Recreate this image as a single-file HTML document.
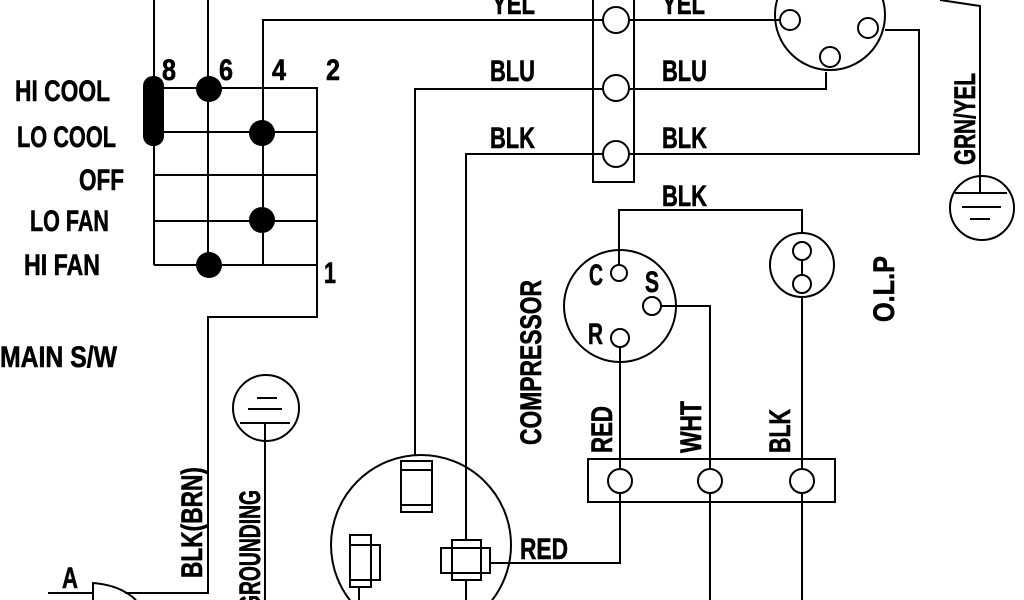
<!DOCTYPE html>
<html><head><meta charset="utf-8"><style>
html,body{margin:0;padding:0;background:#fff;width:1024px;height:600px;overflow:hidden;}
svg{display:block;overflow:hidden;}
text{font-family:"Liberation Sans",sans-serif;font-weight:bold;fill:#000;stroke:#000;stroke-width:0.6;}
</style></head><body>
<svg width="1024" height="600" viewBox="0 0 1024 600" xmlns="http://www.w3.org/2000/svg">
<g fill="none" stroke="#000" stroke-width="2">
<line x1="154" y1="0" x2="154" y2="265"/>
<line x1="208" y1="0" x2="208" y2="265"/>
<polyline points="263,265 263,20 603,20"/>
<polyline points="154,88 317,88 317,317 208,317 208,593 125,593"/>
<line x1="154" y1="132" x2="317" y2="132"/>
<line x1="154" y1="175" x2="317" y2="175"/>
<line x1="154" y1="221" x2="317" y2="221"/>
<line x1="154" y1="265" x2="317" y2="265"/>
<line x1="48" y1="593" x2="93" y2="593"/>
<path d="M93,600 L93,583 Q120,585 136,600"/>
<rect x="593" y="-2" width="41" height="184"/>
<circle cx="616" cy="20" r="13"/>
<circle cx="616" cy="88" r="13"/>
<circle cx="616" cy="154" r="13"/>
<polyline points="415,455 415,89 603,89"/>
<polyline points="466,540 466,154 603,154"/>
<line x1="629" y1="20" x2="779" y2="20"/>
<polyline points="629,89 826,89 826,72"/>
<polyline points="629,154 919,154 919,30 885,30"/>
<circle cx="830" cy="15" r="55"/>
<circle cx="790" cy="20" r="10"/>
<circle cx="868" cy="28" r="10"/>
<circle cx="830" cy="57" r="10"/>
<polyline points="940,0 980,6 980,193"/>
<circle cx="982" cy="208" r="32"/>
<line x1="955" y1="193" x2="1007" y2="193"/>
<line x1="962" y1="207" x2="1001" y2="207"/>
<line x1="970" y1="219" x2="990" y2="219"/>
<polyline points="619,265 619,210 802,210 802,234"/>
<circle cx="620" cy="306" r="56"/>
<circle cx="619" cy="273" r="8"/>
<circle cx="652" cy="306" r="9"/>
<circle cx="620" cy="338" r="9"/>
<polyline points="661,306 710,306 710,600"/>
<polyline points="620,347 620,563 490,563"/>
<circle cx="802" cy="265" r="32"/>
<circle cx="802" cy="251" r="9"/>
<circle cx="802" cy="284" r="9"/>
<line x1="802" y1="260" x2="802" y2="275"/>
<line x1="802" y1="297" x2="802" y2="600"/>
<rect x="588" y="459" width="247" height="43"/>
<circle cx="620" cy="481" r="12" fill="#fff"/>
<circle cx="710" cy="481" r="12" fill="#fff"/>
<circle cx="802" cy="481" r="12" fill="#fff"/>
<circle cx="266" cy="408" r="33"/>
<line x1="257" y1="398" x2="277" y2="398"/>
<line x1="248" y1="409" x2="282" y2="409"/>
<line x1="240" y1="423" x2="290" y2="423"/>
<line x1="265" y1="423" x2="265" y2="600"/>
<circle cx="421" cy="545" r="90"/>
<rect x="401" y="461" width="31" height="51" fill="#fff"/>
<line x1="401" y1="470" x2="432" y2="470"/>
<line x1="401" y1="505" x2="432" y2="505"/>
<rect x="350" y="535" width="21" height="52"/>
<rect x="350" y="545" width="30" height="35"/>
<line x1="359" y1="587" x2="359" y2="600"/>
<rect x="441" y="548" width="49" height="25"/>
<rect x="452" y="540" width="29" height="40"/>
<line x1="466" y1="580" x2="466" y2="600"/>
</g>
<rect x="143" y="76" width="21" height="70" rx="10" fill="#000"/>
<circle cx="209" cy="89" r="13" fill="#000"/>
<circle cx="262" cy="133" r="13" fill="#000"/>
<circle cx="262" cy="220" r="13" fill="#000"/>
<circle cx="209" cy="265" r="13" fill="#000"/>
<g font-size="30">
<text x="15" y="101" textLength="95" lengthAdjust="spacingAndGlyphs">HI COOL</text>
<text x="17" y="147" textLength="99" lengthAdjust="spacingAndGlyphs">LO COOL</text>
<text x="79" y="190" textLength="45" lengthAdjust="spacingAndGlyphs">OFF</text>
<text x="30" y="231" textLength="79" lengthAdjust="spacingAndGlyphs">LO FAN</text>
<text x="24" y="275" textLength="76" lengthAdjust="spacingAndGlyphs">HI FAN</text>
<text x="0" y="367" textLength="117" lengthAdjust="spacingAndGlyphs">MAIN S/W</text>
<text x="162" y="80" textLength="14" lengthAdjust="spacingAndGlyphs">8</text>
<text x="219" y="80" textLength="14" lengthAdjust="spacingAndGlyphs">6</text>
<text x="272" y="80" textLength="14" lengthAdjust="spacingAndGlyphs">4</text>
<text x="326" y="80" textLength="14" lengthAdjust="spacingAndGlyphs">2</text>
<text x="324" y="283" textLength="12" lengthAdjust="spacingAndGlyphs">1</text>
<text x="62" y="588" textLength="16" lengthAdjust="spacingAndGlyphs">A</text>
<text x="492" y="14" textLength="43" lengthAdjust="spacingAndGlyphs">YEL</text>
<text x="662" y="14" textLength="43" lengthAdjust="spacingAndGlyphs">YEL</text>
<text x="490" y="81" textLength="45" lengthAdjust="spacingAndGlyphs">BLU</text>
<text x="662" y="81" textLength="45" lengthAdjust="spacingAndGlyphs">BLU</text>
<text x="490" y="148" textLength="45" lengthAdjust="spacingAndGlyphs">BLK</text>
<text x="662" y="148" textLength="45" lengthAdjust="spacingAndGlyphs">BLK</text>
<text x="662" y="206" textLength="45" lengthAdjust="spacingAndGlyphs">BLK</text>
<text x="520" y="559" textLength="48" lengthAdjust="spacingAndGlyphs">RED</text>
<text x="589" y="285" textLength="14" lengthAdjust="spacingAndGlyphs">C</text>
<text x="645" y="292" textLength="14" lengthAdjust="spacingAndGlyphs">S</text>
<text x="588" y="344" textLength="15" lengthAdjust="spacingAndGlyphs">R</text>
<text transform="translate(975,165) rotate(-90)" textLength="92" lengthAdjust="spacingAndGlyphs">GRN/YEL</text>
<text transform="translate(541,445) rotate(-90)" textLength="165" lengthAdjust="spacingAndGlyphs">COMPRESSOR</text>
<text transform="translate(894,322) rotate(-90)" textLength="66" lengthAdjust="spacingAndGlyphs">O.L.P</text>
<text transform="translate(612,453) rotate(-90)" textLength="47" lengthAdjust="spacingAndGlyphs">RED</text>
<text transform="translate(701,453) rotate(-90)" textLength="52" lengthAdjust="spacingAndGlyphs">WHT</text>
<text transform="translate(790,453) rotate(-90)" textLength="44" lengthAdjust="spacingAndGlyphs">BLK</text>
<text transform="translate(202,578) rotate(-90)" textLength="111" lengthAdjust="spacingAndGlyphs">BLK(BRN)</text>
<text transform="translate(260,610) rotate(-90)" textLength="120" lengthAdjust="spacingAndGlyphs">GROUNDING</text>
</g>
</svg>
</body></html>
